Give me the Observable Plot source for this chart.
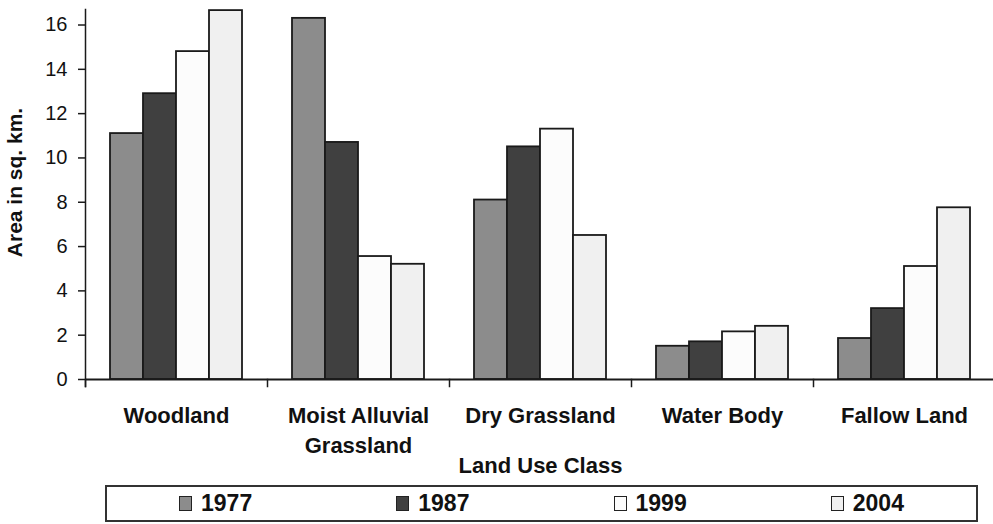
<!DOCTYPE html>
<html><head><meta charset="utf-8">
<script src="https://cdn.jsdelivr.net/npm/d3@7"></script>
<script src="https://cdn.jsdelivr.net/npm/@observablehq/plot@0.6"></script>
<style>
body{margin:0;background:#fff;font-family:"Liberation Sans",Arial,sans-serif;}
#legend{box-sizing:border-box;margin:3px 0 0 105px;width:873px;height:37px;border:2px solid #333;display:flex;align-items:center;}
.item{flex:1;display:flex;justify-content:center;align-items:center;font-weight:bold;font-size:23px;color:#111;line-height:1;}
.sw{width:13px;height:15px;border:1.5px solid #222;margin-right:9px;box-sizing:border-box;}
</style></head><body><div id="chart"></div><div id="legend"></div>
<script>
const categories = ["Woodland","Moist Alluvial Grassland","Dry Grassland","Water Body","Fallow Land"];
const categoryLabels = ["Woodland","Moist Alluvial\nGrassland","Dry Grassland","Water Body","Fallow Land"];
const years = ["1977","1987","1999","2004"];
const v1977 = [11.1, 16.3, 8.1, 1.5, 1.85];
const v1987 = [12.9, 10.7, 10.5, 1.7, 3.2];
const v1999 = [14.8, 5.55, 11.3, 2.15, 5.1];
const v2004 = [16.65, 5.2, 6.5, 2.4, 7.75];
const yTicks = [0,2,4,6,8,10,12,14,16];
const colors = ["#8c8c8c","#404040","#fcfcfc","#f0f0f0"];

const series = [v1977, v1987, v1999, v2004];
const table = [];
categories.forEach((c, i) => years.forEach((y, j) => table.push({category: c, year: y, value: series[j][i]})));

const chart = Plot.plot({
  width: 993, height: 482,
  marginLeft: 85, marginRight: -2, marginTop: 9, marginBottom: 103,
  style: {fontFamily: "'Liberation Sans', Arial, sans-serif", fontSize: "20px", color: "#111", background: "white"},
  fx: {domain: categories, padding: 0, axis: null},
  x: {domain: years, paddingInner: 0, paddingOuter: 0.744, axis: null},
  y: {domain: [0, 16.7]},
  color: {domain: years, range: colors},
  marks: [
    Plot.barY(table, {fx: "category", x: "year", y: "value", fill: "year", stroke: "#1a1a1a", strokeWidth: 1.8}),
    Plot.ruleY([0], {stroke: "#1a1a1a", strokeWidth: 1.8}),
    Plot.frame({anchor: "left", insetTop: 370, insetBottom: -7, stroke: "#1a1a1a", strokeWidth: 1.5}),
    Plot.frame({anchor: "left", fx: ["Woodland"], insetBottom: -7, stroke: "#1a1a1a", strokeWidth: 1.5}),
    Plot.axisY({ticks: yTicks, tickSize: 7, tickPadding: 11, label: null, fontSize: 20, stroke: "#1a1a1a", strokeWidth: 1.5}),
    Plot.text(categories, {fx: d => d, text: (d, i) => categoryLabels[i], frameAnchor: "bottom", lineAnchor: "top", dy: 22, fontSize: 22, fontWeight: "bold", lineHeight: 1.36}),
    Plot.text(["Land Use Class"], {fx: ["Dry Grassland"], text: d => d, frameAnchor: "bottom", lineAnchor: "top", dy: 78, fontSize: 22, fontWeight: "bold"}),
    Plot.text(["Area in sq. km."], {fx: ["Woodland"], text: d => d, frameAnchor: "left", textAnchor: "middle", rotate: -90, dx: -70, dy: -12, fontSize: 21, fontWeight: "bold"})
  ]
});
document.getElementById("chart").append(chart);

const legend = document.getElementById("legend");
years.forEach((y, j) => {
  const it = document.createElement("div"); it.className = "item";
  const sw = document.createElement("span"); sw.className = "sw"; sw.style.background = colors[j];
  const t = document.createElement("span"); t.textContent = y;
  it.append(sw, t); legend.append(it);
});
</script></body></html>
